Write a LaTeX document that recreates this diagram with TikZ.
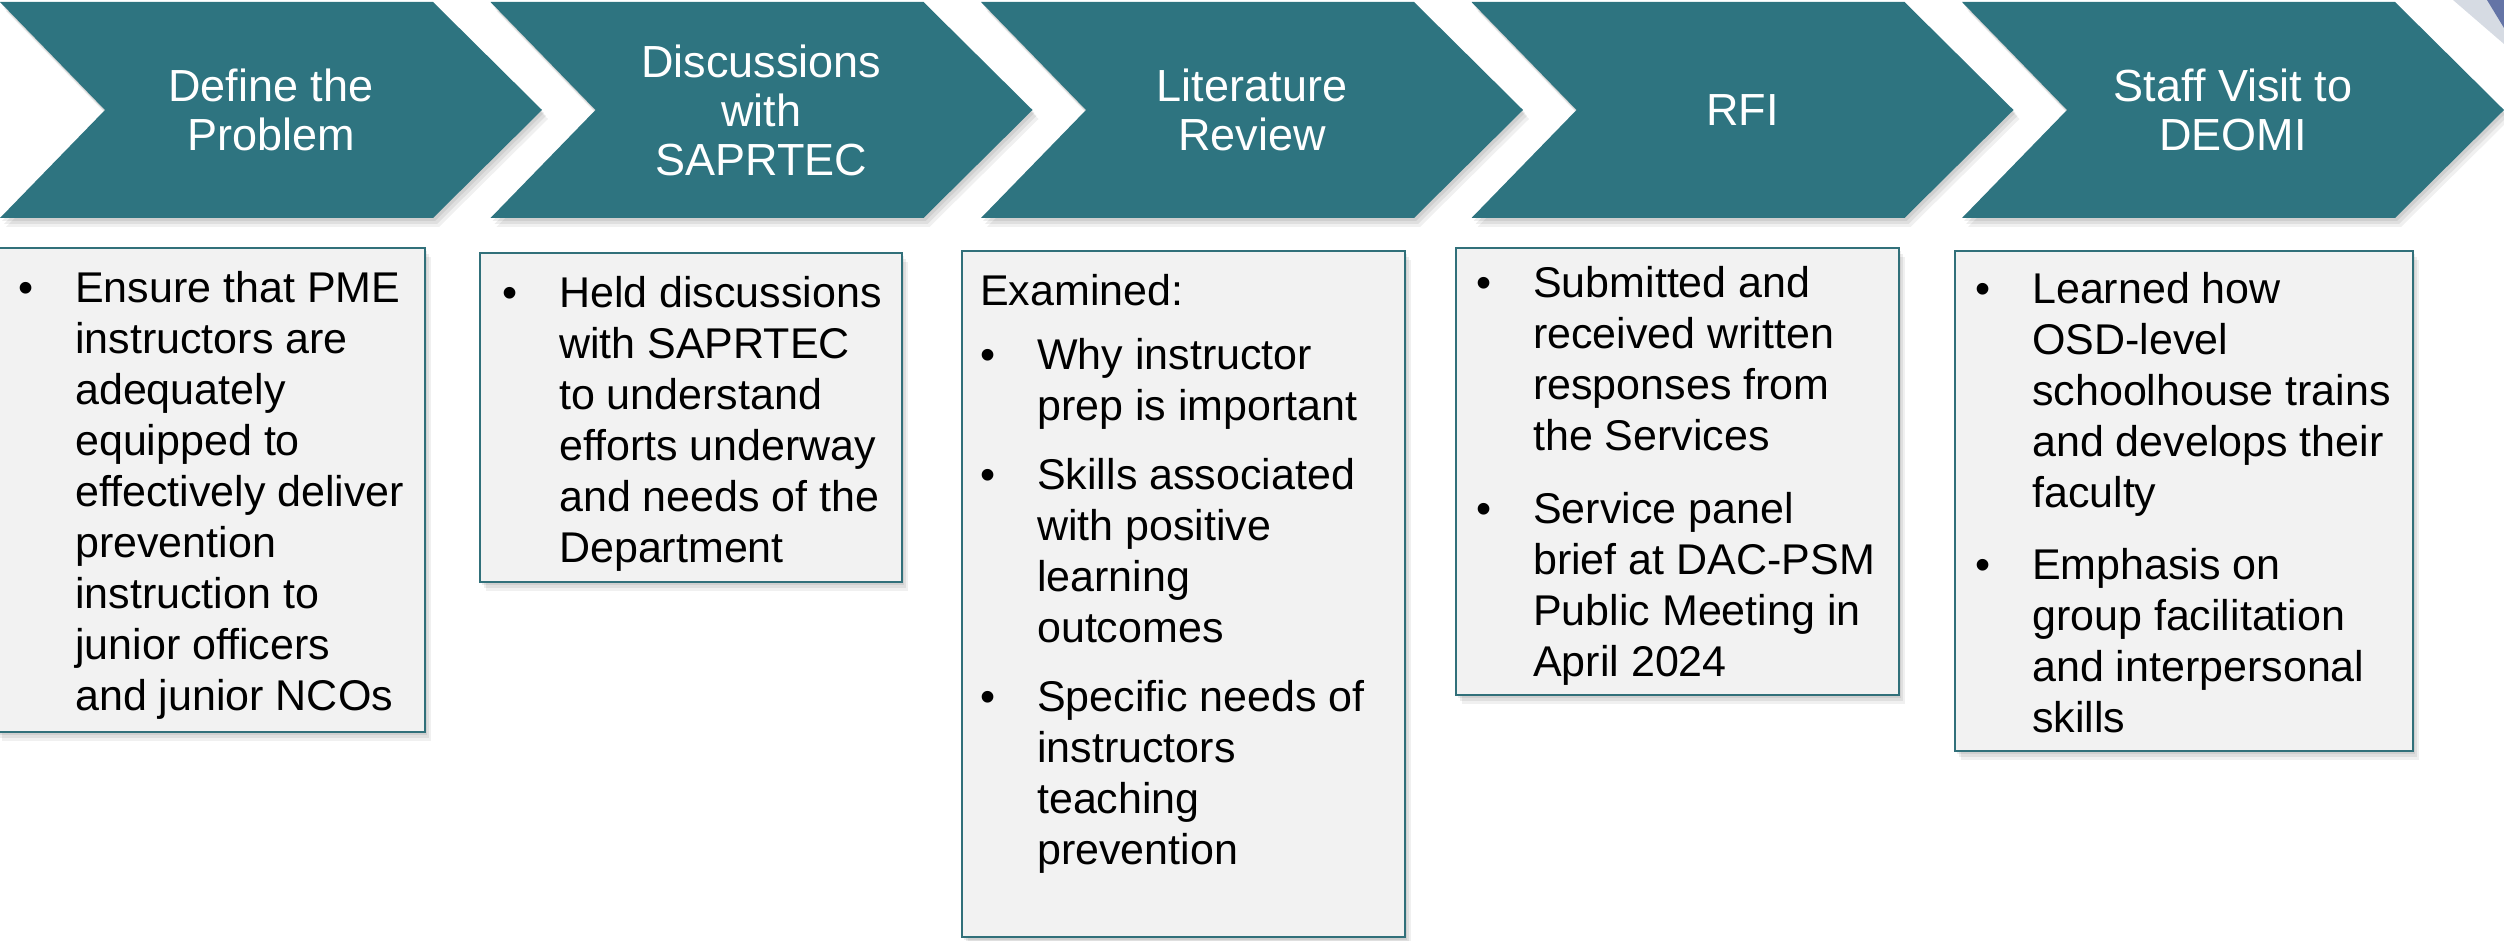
\documentclass[tikz,border=0pt]{standalone}
\usepackage{fontspec}
\setmainfont{Liberation Sans}
\usepackage{tikz}
\definecolor{stepteal}{HTML}{2E7480}
\definecolor{boxedge}{HTML}{31707A}
\definecolor{boxfill}{HTML}{F2F2F2}
\definecolor{cornergray}{HTML}{D6DBE3}
\definecolor{cornerblue}{HTML}{6474A6}
\newenvironment{notelist}{\begin{tabular}{@{}p{57pt}@{}l@{}}}{\end{tabular}}

\tikzset{
  softshade/.style={
    preaction={fill=black,opacity=.07,transform canvas={xshift=2pt,yshift=-3pt}},
    preaction={fill=black,opacity=.07,transform canvas={xshift=4pt,yshift=-6pt}},
    preaction={fill=black,opacity=.06,transform canvas={xshift=6pt,yshift=-9pt}}},
  stepshape/.style={softshade,fill=stepteal},
  notebox/.style={softshade,fill=boxfill,draw=boxedge,line width=2pt},
  steptitle/.style={text=white,align=center,inner sep=0pt,
    font=\fontsize{45}{49}\selectfont},
  notetext/.style={anchor=north west,inner sep=0pt,
    font=\fontsize{43}{51}\selectfont}
}

\begin{document}
\begin{tikzpicture}[x=1pt,y=-1pt]
  \useasboundingbox (0,0) rectangle (2504,941);
  \clip (0,0) rectangle (2504,941);
  \fill[cornergray] (2453,0) -- (2504,0) -- (2504,44) -- cycle;
  \fill[cornerblue] (2487,0) -- (2504,0) -- (2504,28) -- cycle;
  \foreach \t [count=\i from 0] in {{Define the\\Problem},{Discussions\\with\\SAPRTEC},
      {Literature\\Review},{RFI},{Staff Visit to\\DEOMI}} {
    \fill[stepshape] ({490.5*\i},2) -- ++(433,0) -- ++(109,108) -- ++(-109,108)
      -- ++(-433,0) -- ++(105,-108) -- cycle;
    \node[steptitle] (step\i) at ({490.5*\i+271},110) {\t};
  }
  \draw[notebox] (-4,248) rectangle (425,732);
  \node[notetext] (note0) at (18,267) {\begin{notelist}
    \textbullet & Ensure that PME\\ & instructors are\\ & adequately\\ & equipped to\\
    & effectively deliver\\ & prevention\\ & instruction to\\ & junior officers\\
    & and junior NCOs
  \end{notelist}};
  \draw[notebox] (480,253) rectangle (902,582);
  \node[notetext] (note1) at (502,272) {\begin{notelist}
    \textbullet & Held discussions\\ & with SAPRTEC\\ & to understand\\
    & efforts underway\\ & and needs of the\\ & Department
  \end{notelist}};
  \draw[notebox] (962,251) rectangle (1405,937);
  \node[notetext] (note2) at (980,270) {\begin{notelist}
    \multicolumn{2}{@{}l@{}}{Examined:}\\[13pt]
    \textbullet & Why instructor\\ & prep is important\\[18pt]
    \textbullet & Skills associated\\ & with positive\\ & learning\\ & outcomes\\[18pt]
    \textbullet & Specific needs of\\ & instructors\\ & teaching\\ & prevention
  \end{notelist}};
  \draw[notebox] (1456,248) rectangle (1899,695);
  \node[notetext] (note3) at (1476,262) {\begin{notelist}
    \textbullet & Submitted and\\ & received written\\ & responses from\\ & the Services\\[22pt]
    \textbullet & Service panel\\ & brief at DAC-PSM\\ & Public Meeting in\\ & April 2024
  \end{notelist}};
  \draw[notebox] (1955,251) rectangle (2413,751);
  \node[notetext] (note4) at (1975,268) {\begin{notelist}
    \textbullet & Learned how\\ & OSD-level\\ & schoolhouse trains\\ & and develops their\\
    & faculty\\[21pt]
    \textbullet & Emphasis on\\ & group facilitation\\ & and interpersonal\\ & skills
  \end{notelist}};
\end{tikzpicture}
\end{document}
